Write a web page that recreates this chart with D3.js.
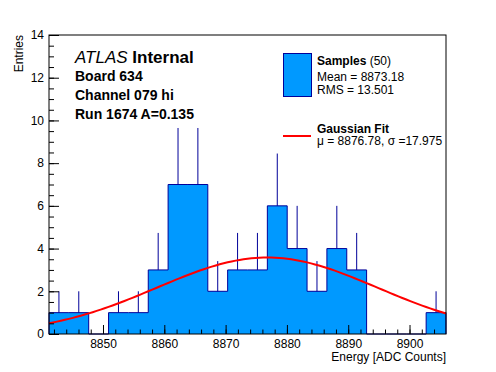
<!DOCTYPE html>
<html>
<head>
<meta charset="utf-8">
<script src="https://cdn.jsdelivr.net/npm/d3@7"></script>
<style>
  body { margin: 0; background: #fff; }
  svg { display: block; font-family: "Liberation Sans", Arial, sans-serif; }
  .axis path.domain { display: none; }
  .axis line { stroke: #000; }
</style>
</head>
<body>
<svg id="chart" width="496" height="372"></svg>
<script>
// histogram contents (20 bins between histMin and histMax)
var binCounts = [1, 1, 0, 1, 1, 3, 7, 7, 2, 3, 3, 6, 4, 2, 4, 3, 0, 0, 0, 1];
var histMin = 8841.19,
    histMax = 8905.95;

// gaussian fit parameters (from the legend)
var fitMean = 8876.78,
    fitSigma = 17.975,
    fitAmp = 3.58;

var xMajorTicks = [8850, 8860, 8870, 8880, 8890, 8900];
var yMajorTicks = [0, 2, 4, 6, 8, 10, 12, 14];

var infoLines = ["Board 634", "Channel 079 hi", "Run 1674 A=0.135"];
var statLines = ["Mean = 8873.18", "RMS = 13.501"];

var margin = {top: 35, right: 50, bottom: 38, left: 49},
    W = 496, H = 372,
    w = W - margin.left - margin.right,
    h = H - margin.top - margin.bottom;

var svg = d3.select("#chart");
svg.append("rect").attr("width", W).attr("height", H).attr("fill", "#fff");

var g = svg.append("g")
    .attr("transform", "translate(" + margin.left + "," + margin.top + ")");

var xScale = d3.scaleLinear().domain([histMin, histMax]).range([0, w]);
var yScale = d3.scaleLinear().domain([0, 14]).range([h, 0]);

var binWidth = (histMax - histMin) / binCounts.length;

// step outline points
var pts = [[histMin, 0]];
binCounts.forEach(function(c, i) {
    var lo = histMin + i * binWidth;
    pts.push([lo, c]);
    pts.push([lo + binWidth, c]);
});
pts.push([histMax, 0]);

var fillColor = "#0099ff",
    lineColor = "#000099";

g.append("path")
    .datum(pts)
    .attr("fill", fillColor)
    .attr("d", d3.area()
        .x(function(d) { return xScale(d[0]); })
        .y0(yScale(0))
        .y1(function(d) { return yScale(d[1]); }));

g.append("path")
    .datum(pts)
    .attr("fill", "none")
    .attr("stroke", lineColor)
    .attr("stroke-width", 1)
    .attr("d", d3.line()
        .x(function(d) { return xScale(d[0]); })
        .y(function(d) { return yScale(d[1]); }));

// error bars (upper half, the rest sits under the fill)
g.append("g").selectAll("line")
    .data(binCounts.map(function(c, i) { return {c: c, x: histMin + (i + 0.5) * binWidth}; })
        .filter(function(d) { return d.c > 0; }))
    .enter().append("line")
    .attr("x1", function(d) { return xScale(d.x); })
    .attr("x2", function(d) { return xScale(d.x); })
    .attr("y1", function(d) { return yScale(d.c); })
    .attr("y2", function(d) { return yScale(d.c + Math.sqrt(d.c)); })
    .attr("stroke", lineColor)
    .attr("stroke-width", 1);

// fit curve
var fitX = d3.range(0, 101).map(function(i) { return histMin + i * (histMax - histMin) / 100; });
g.append("path")
    .datum(fitX)
    .attr("fill", "none")
    .attr("stroke", "#ff0000")
    .attr("stroke-width", 2)
    .attr("d", d3.line()
        .x(function(d) { return xScale(d); })
        .y(function(d) {
            var z = (d - fitMean) / fitSigma;
            return yScale(fitAmp * Math.exp(-0.5 * z * z));
        }));

// axes
var xMinor = d3.range(8842, 8906, 2);
var yMinor = d3.range(0, 14.01, 0.5);

g.append("g").attr("class", "axis")
    .attr("transform", "translate(0," + h + ")")
    .call(d3.axisBottom(xScale).tickValues(xMinor).tickSize(-4.5).tickFormat(""));
g.append("g").attr("class", "axis")
    .attr("transform", "translate(0," + h + ")")
    .call(d3.axisBottom(xScale).tickValues(xMajorTicks).tickSize(-9).tickPadding(5).tickFormat(d3.format("d")))
    .selectAll("text").style("font-size", "12px").attr("fill", "#000");

g.append("g").attr("class", "axis")
    .call(d3.axisLeft(yScale).tickValues(yMinor).tickSize(-5).tickFormat(""));
g.append("g").attr("class", "axis")
    .call(d3.axisLeft(yScale).tickValues(yMajorTicks).tickSize(-10).tickPadding(5).tickFormat(d3.format("d")))
    .selectAll("text").style("font-size", "12px").attr("fill", "#000");

// frame
g.append("rect")
    .attr("width", w).attr("height", h)
    .attr("fill", "none").attr("stroke", "#000").attr("stroke-width", 1);

// axis titles
svg.append("text")
    .attr("x", margin.left + w).attr("y", 361)
    .attr("text-anchor", "end")
    .style("font-size", "12px")
    .text("Energy [ADC Counts]");

svg.append("text")
    .attr("transform", "translate(23," + margin.top + ") rotate(-90)")
    .attr("text-anchor", "end")
    .style("font-size", "12px")
    .text("Entries");

// ATLAS label
var atlas = svg.append("text").attr("x", 75).attr("y", 63).style("font-size", "17px");
atlas.append("tspan").style("font-style", "italic").text("ATLAS");
atlas.append("tspan").style("font-weight", "bold").text(" Internal");

svg.selectAll("text.info")
    .data(infoLines)
    .enter().append("text")
    .attr("class", "info")
    .attr("x", 75)
    .attr("y", function(d, i) { return 81 + i * 19; })
    .style("font-size", "14px")
    .style("font-weight", "bold")
    .text(function(d) { return d; });

// legend
svg.append("rect")
    .attr("x", 283.5).attr("y", 53.5).attr("width", 28).attr("height", 43)
    .attr("fill", fillColor).attr("stroke", lineColor);

var lt = svg.append("text").attr("x", 317).attr("y", 65).style("font-size", "12px");
lt.append("tspan").style("font-weight", "bold").text("Samples");
lt.append("tspan").text(" (50)");

svg.selectAll("text.stat")
    .data(statLines)
    .enter().append("text")
    .attr("class", "stat")
    .attr("x", 317)
    .attr("y", function(d, i) { return 80.5 + i * 13.5; })
    .style("font-size", "12px")
    .text(function(d) { return d; });

svg.append("line")
    .attr("x1", 283).attr("x2", 311).attr("y1", 136).attr("y2", 136)
    .attr("stroke", "#ff0000").attr("stroke-width", 2);

svg.append("text").attr("x", 317).attr("y", 132.5)
    .style("font-size", "12px").style("font-weight", "bold")
    .text("Gaussian Fit");
svg.append("text").attr("x", 317).attr("y", 145)
    .style("font-size", "12px")
    .text("\u03bc = " + fitMean + ", \u03c3 =" + fitSigma);
</script>
</body>
</html>
